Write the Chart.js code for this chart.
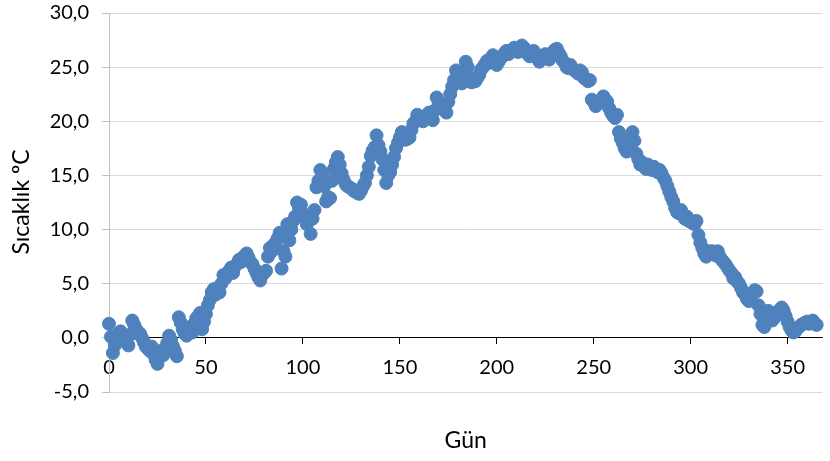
<!DOCTYPE html>
<html lang="tr">
<head>
<meta charset="utf-8">
<title>Sıcaklık</title>
<script src="https://cdn.jsdelivr.net/npm/chart.js@4/dist/chart.umd.min.js"></script>
<style>
  html, body { margin: 0; padding: 0; background: #fff; }
  #wrap { width: 830px; height: 461px; position: relative; }
</style>
</head>
<body>
<div id="wrap"><canvas id="grafik"></canvas></div>
<script>
// günlük ortalama sıcaklık (ºC), gün 0..365, dörde bölünmüş
const sicaklikQ1 = [
  1.3, 0.1, -1.4, -0.7, -0.2, 0.4, 0.6, 0.2, -0.3, 0.1,
  -0.7, 0.3, 1.6, 1.2, 0.8, 0.5, 0.4, 0.0, -0.4, -0.8,
  -1.0, -1.2, -0.8, -1.5, -2.0, -2.4, -1.8, -1.2, -1.6, -1.0,
  -0.5, 0.2, -0.2, -0.8, -1.2, -1.7, 1.9, 1.4, 0.8, 0.4,
  0.2, 0.6, 1.0, 0.5, 1.3, 1.8, 2.0, 2.3, 0.8, 1.5,
  2.2, 3.0, 3.5, 4.2, 4.5, 4.0, 4.6, 4.2, 5.0, 5.8,
  5.5, 5.9, 6.2, 6.5, 6.0, 6.6, 6.8, 7.2, 7.0, 7.4,
  7.6, 7.8, 7.4, 7.0, 6.8, 6.4, 6.0, 5.6, 5.3, 5.8,
  6.0, 6.2, 7.5, 8.3, 8.0, 8.6, 8.8, 9.2, 9.7, 6.4
];
const sicaklikQ2 = [
  8.0, 7.5, 10.5, 9.0, 10.0, 10.8, 11.2, 12.5, 12.0, 12.3,
  11.5, 11.0, 10.5, 10.8, 9.6, 11.0, 11.8, 13.9, 14.5, 15.5,
  15.2, 14.0, 12.6, 13.0, 12.9, 14.5, 15.6, 16.2, 16.7, 16.0,
  15.2, 14.6, 14.2, 14.0, 13.9, 13.8, 13.6, 13.5, 13.4, 13.3,
  13.6, 14.0, 14.3, 15.0, 15.8, 16.8, 17.3, 17.6, 18.7, 17.8,
  17.2, 16.5, 15.5, 14.3, 15.0, 15.3, 16.0, 16.7, 17.5, 18.0,
  18.5, 19.0, 18.8, 18.3, 18.4, 18.5, 19.2, 19.8, 20.0, 20.6,
  20.2, 20.4, 20.0, 20.3, 20.6, 20.8, 20.4, 20.1, 21.0, 22.2,
  21.8, 21.5, 21.2, 21.0, 20.8, 21.8, 22.5, 23.2, 23.8, 24.7
];
const sicaklikQ3 = [
  24.2, 23.8, 23.5, 24.5, 25.5, 25.0, 24.0, 23.6, 23.8, 23.7,
  24.0, 24.3, 24.8, 25.0, 25.3, 25.6, 25.4, 25.8, 26.1, 25.6,
  25.2, 25.5, 25.8, 26.0, 26.3, 26.5, 26.2, 26.4, 26.6, 26.8,
  26.6, 26.4, 26.7, 27.0, 26.8, 26.5, 26.2, 26.0, 26.3, 26.5,
  26.2, 25.8, 25.5, 25.8, 26.0, 26.2, 26.0, 25.7, 26.0, 26.4,
  26.6, 26.7, 26.3, 26.0, 25.6, 25.4, 25.0, 24.9, 25.2, 24.9,
  24.7, 24.6, 24.4, 24.7, 24.5, 24.0, 23.9, 23.7, 23.8, 22.0,
  21.8, 21.4, 21.6, 21.8, 22.0, 22.3, 22.0, 21.8, 21.2, 20.8,
  20.5, 20.3, 20.6, 19.0, 18.4, 18.0, 17.5, 17.2, 17.8, 18.5
];
const sicaklikQ4 = [
  19.0, 18.2, 17.0, 16.5, 16.0, 16.2, 15.8, 15.6, 16.0, 15.8,
  15.5, 15.8, 15.6, 15.3, 15.5, 15.2, 14.8, 14.5, 14.0, 13.5,
  13.0, 12.6, 12.0, 11.6, 11.5, 11.8, 11.4, 11.0, 11.2, 10.8,
  10.8, 10.6, 10.5, 10.8, 9.5, 8.8, 8.3, 7.8, 7.5, 8.0,
  7.8, 8.0, 7.9, 7.6, 8.0, 7.5, 7.2, 7.0, 6.8, 6.5,
  6.2, 6.0, 5.5, 5.6, 5.2, 5.0, 4.6, 4.2, 4.0, 3.6,
  3.4, 3.8, 4.2, 4.4, 4.3, 3.0, 2.2, 1.2, 1.0, 1.8,
  2.5, 2.0, 1.6, 1.8, 2.2, 2.4, 2.6, 2.8, 2.5, 2.0,
  1.5, 1.0, 0.7, 0.5, 0.6, 0.9, 1.0, 1.2, 1.3, 1.4,
  1.5, 1.3, 1.4, 1.6, 1.3, 1.2
];

const sicaklik = [...sicaklikQ1, ...sicaklikQ2, ...sicaklikQ3, ...sicaklikQ4];
const gunler = sicaklik.map((_, i) => i);

const X_TITLE = 'Gün';
const Y_TITLE = 'Sıcaklık ºC';
const FONT = 'Lato, "Open Sans", sans-serif';
const TEXT = '#000000';

const axisTitles = {
  id: 'axisTitles',
  afterDraw(chart) {
    const { ctx, chartArea } = chart;
    ctx.save();
    ctx.fillStyle = TEXT;
    ctx.font = `23px ${FONT}`;
    ctx.textAlign = 'center';
    ctx.textBaseline = 'middle';
    ctx.fillText(X_TITLE, (chartArea.left + chartArea.right) / 2, 441);
    ctx.translate(22, 202);
    ctx.rotate(-Math.PI / 2);
    ctx.fillText(Y_TITLE, 0, 0);
    ctx.restore();
  }
};

new Chart(document.getElementById('grafik'), {
  type: 'scatter',
  data: {
    datasets: [{
      label: Y_TITLE,
      data: gunler.map((g, i) => ({ x: g, y: sicaklik[i] })),
      backgroundColor: '#4f81bd',
      borderColor: '#4f81bd',
      borderWidth: 1,
      pointRadius: 6.5,
      pointHoverRadius: 6.5,
      clip: false,
    }]
  },
  options: {
    responsive: true,
    maintainAspectRatio: false,
    animation: false,
    layout: { padding: { top: 13, right: 0, bottom: 69, left: 0 } },
    plugins: {
      legend: { display: false },
      tooltip: { enabled: false },
    },
    scales: {
      x: {
        type: 'linear',
        position: { y: 0 },
        min: 0,
        max: 368,
        ticks: {
          stepSize: 50,
          includeBounds: false,
          color: TEXT,
          font: { family: FONT, size: 20 },
          padding: 12,
          maxRotation: 0,
        },
        grid: { drawOnChartArea: false, drawTicks: true, tickLength: 6, tickColor: '#000' },
        border: { display: true, color: '#000', width: 1 },
      },
      y: {
        min: -5,
        max: 30,
        afterFit(scale) {
          scale.width = 109;
          scale.paddingTop = 0;
          scale.paddingBottom = 0;
        },
        ticks: {
          stepSize: 5,
          color: TEXT,
          padding: 13,
          font: { family: FONT, size: 20 },
          callback: v => v.toFixed(1).replace('.', ','),
        },
        grid: { color: '#d9d9d9', tickColor: '#bfbfbf', tickLength: 7, lineWidth: 1 },
        border: { display: true, color: '#bfbfbf', width: 1 },
      },
    },
  },
  plugins: [axisTitles],
});
</script>
</body>
</html>
